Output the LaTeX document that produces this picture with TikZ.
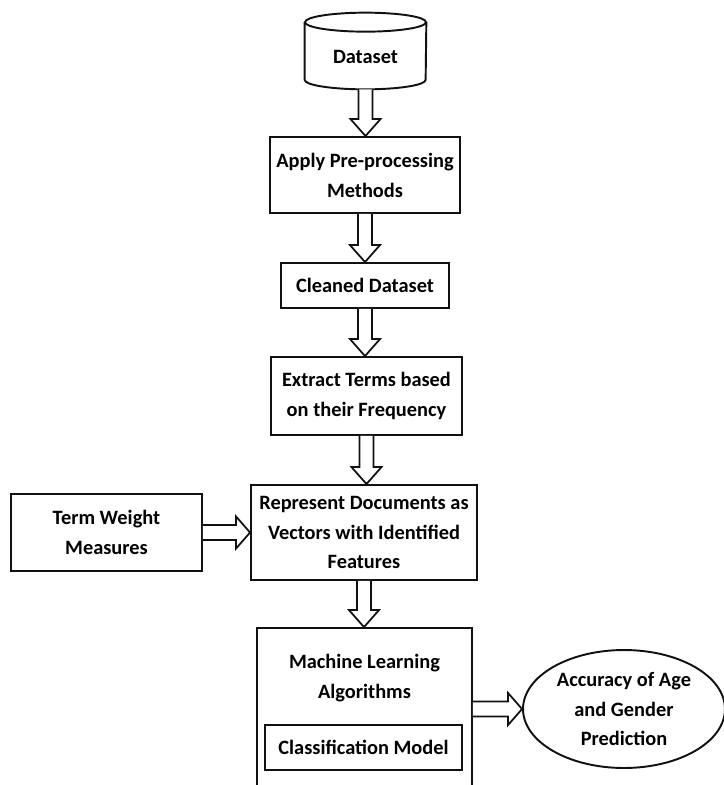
\documentclass[tikz,border=0pt]{standalone}
\usepackage{fontspec}
\setmainfont{Carlito}
\usepackage{tikz}
\usetikzlibrary{positioning, calc, shapes.geometric}
\newcommand{\downblock}[2]{%
  \draw[blockarrow] let \p1=(#1.south), \p2=(#2.north) in
    (\x1-0.14cm,\y1) -- (\x1-0.14cm,\y2+0.34cm) -- (\x1-0.3cm,\y2+0.34cm) -- (\x1,\y2)
    -- (\x1+0.3cm,\y2+0.34cm) -- (\x1+0.14cm,\y2+0.34cm) -- (\x1+0.14cm,\y1);
}
\newcommand{\rightblock}[2]{%
  \draw[blockarrow] let \p1=(#1.east), \p2=(#2.west) in
    (\x1,\y2+0.15cm) -- (\x2-0.28cm,\y2+0.15cm) -- (\x2-0.28cm,\y2+0.32cm) -- (\x2,\y2)
    -- (\x2-0.28cm,\y2-0.32cm) -- (\x2-0.28cm,\y2-0.15cm) -- (\x1,\y2-0.15cm);
}
\definecolor{flowBlack}{HTML}{111111}

\begin{document}
\begin{tikzpicture}[x=0.02cm, y=-0.02cm,
  font=\fontsize{11.6}{17}\selectfont\bfseries,
  stepbox/.style={draw=flowBlack, line width=1.1pt, align=center, inner sep=2pt},
  blockarrow/.style={draw=flowBlack, fill=white, line width=1pt, line join=miter},
  result/.style={ellipse, draw=flowBlack, line width=1.1pt, align=center, inner sep=0pt}]
  \useasboundingbox (0,0) rectangle (724,785);
  \clip (0,0) rectangle (724,785);
  % dataset cylinder
  \node[minimum width=2.42cm, minimum height=1.52cm] (data) at (365.5,51) {};
  \draw[stepbox] ([yshift=-0.19cm]data.north west) -- ([yshift=0.19cm]data.south west)
    arc[start angle=180, end angle=360, x radius=1.21cm, y radius=0.19cm]
    -- ([yshift=-0.19cm]data.north east);
  \draw[stepbox] ([yshift=-0.19cm]data.north) ellipse [x radius=1.21cm, y radius=0.19cm];
  \node (datatext) at (365.5,57) {Dataset};
  % main column
  \node[stepbox, minimum width=3.8cm, minimum height=1.52cm] (apply) at (365,175) {Apply Pre-processing\\Methods};
  \node[stepbox, minimum width=3.36cm, minimum height=0.9cm] (clean) at (365,285.5) {Cleaned Dataset};
  \node[stepbox, minimum width=3.82cm, minimum height=1.56cm] (extract) at (366.5,396) {Extract Terms based\\on their Frequency};
  \node[stepbox, minimum width=4.52cm, minimum height=1.9cm] (repr) at (364,532.5) {Represent Documents as\\Vectors with Identified\\Features};
  \node[stepbox, minimum width=3.82cm, minimum height=1.54cm] (weight) at (106.5,532.5) {Term Weight\\Measures};
  % learning box, open at the bottom
  \node[stepbox, minimum width=4.3cm, minimum height=3.44cm] (ml) at (364.5,714) {};
  \node[align=center] (mltext) at (364.5,678) {Machine Learning\\Algorithms};
  \node[stepbox, minimum width=3.94cm, minimum height=0.9cm] (model) at (363.5,747.5) {Classification Model};
  \node[result, minimum width=4.04cm, minimum height=2.36cm] (acc) at (624,709) {Accuracy of Age\\and Gender\\Prediction};
  % arrows
  \downblock{data}{apply}
  \downblock{apply}{clean}
  \downblock{clean}{extract}
  \downblock{extract}{repr}
  \downblock{repr}{ml}
  \rightblock{weight}{repr}
  \rightblock{ml}{acc}
\end{tikzpicture}
\end{document}
